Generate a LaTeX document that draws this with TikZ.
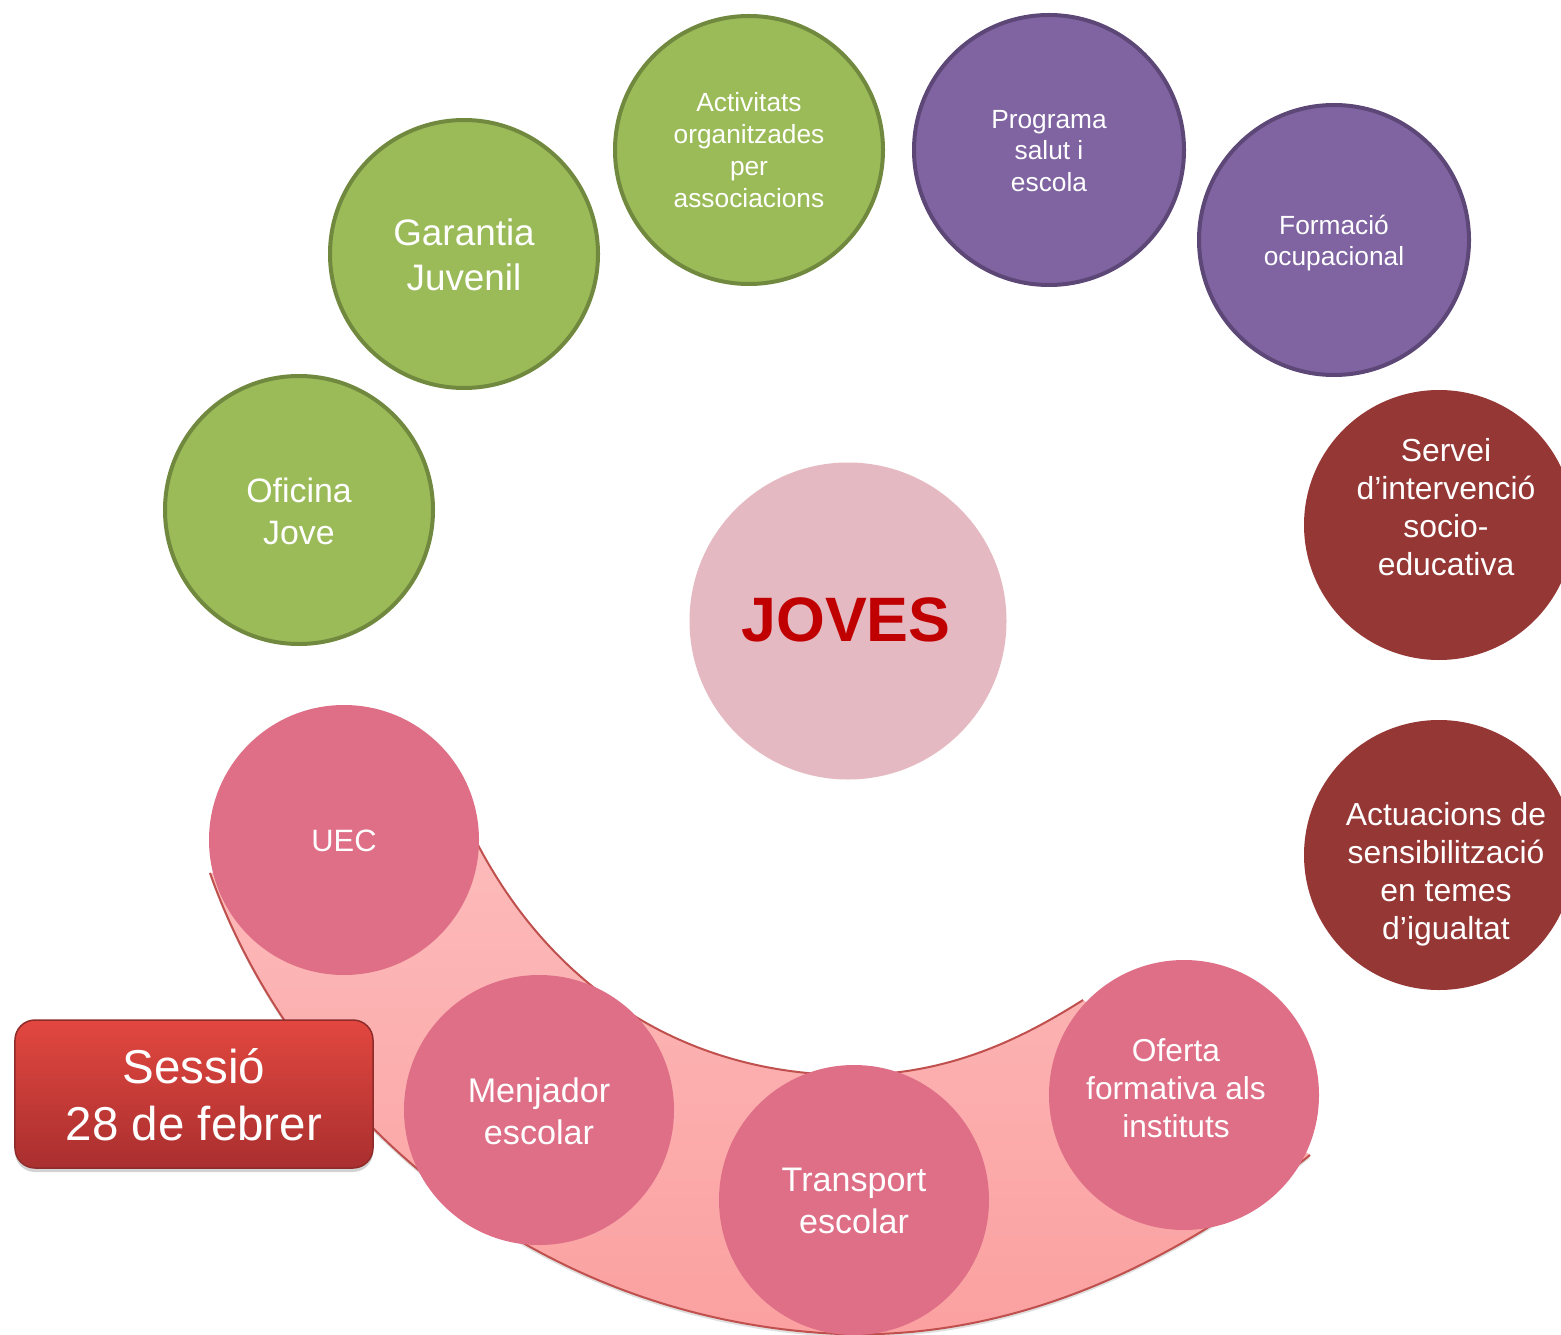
\documentclass[tikz,border=0pt]{standalone}
\usepackage{fontspec}
\setmainfont{Liberation Sans}
\usetikzlibrary{shadows}
\definecolor{grn}{HTML}{9BBB59}
\definecolor{grnb}{HTML}{71893F}
\definecolor{pur}{HTML}{8064A2}
\definecolor{purb}{HTML}{5C4776}
\definecolor{dred}{HTML}{953735}
\definecolor{pnk}{HTML}{DE6F87}
\definecolor{jov}{HTML}{E5B9C2}
\definecolor{jovtxt}{HTML}{C00000}
\definecolor{bandtop}{HTML}{FDBABA}
\definecolor{bandbot}{HTML}{FBA0A0}
\definecolor{bandline}{HTML}{C0504D}
\definecolor{boxtop}{HTML}{E2473F}
\definecolor{boxbot}{HTML}{A92F2F}
\definecolor{boxline}{HTML}{8E2B2B}
\begin{document}
\begin{tikzpicture}[x=1bp,y=-1bp,
  greenc/.style={circle, inner sep=0pt, minimum size=268bp, fill=grn, draw=grnb, line width=4bp},
  purc/.style={circle, inner sep=0pt, minimum size=270bp, fill=pur, draw=purb, line width=4bp},
  redc/.style={circle, inner sep=0pt, minimum size=270bp, fill=dred},
  pinkc/.style={circle, inner sep=0pt, minimum size=270bp, fill=pnk},
  bandedge/.style={draw=bandline, line width=2bp},
  txt/.style={text=white, align=center, inner sep=0pt, font=\fontsize{#1}{#1}\selectfont},
  fs/.code args={#1/#2}{\tikzset{font=\fontsize{#1}{#2}\selectfont}}
]
\useasboundingbox (0,0) rectangle (1561,1335);
\clip (0,0) rectangle (1561,1335);

% band
\path[top color=bandtop, bottom color=bandbot,
  drop shadow={opacity=0.25, shadow xshift=0bp, shadow yshift=-3bp}]
  (210,873) .. controls (290,1100) and (520,1320) .. (840,1334)
  .. controls (1020,1340) and (1180,1260) .. (1310,1155)
  -- (1083,1000)
  .. controls (1020,1040) and (950,1073) .. (860,1075)
  .. controls (700,1078) and (560,1000) .. (478,845) -- cycle;
\draw[bandedge] (210,873) .. controls (290,1100) and (520,1320) .. (840,1334)
  .. controls (1020,1340) and (1180,1260) .. (1310,1155);
\draw[bandedge] (1083,1000)
  .. controls (1020,1040) and (950,1073) .. (860,1075)
  .. controls (700,1078) and (560,1000) .. (478,845);

% green circles
\node[greenc] (oficina) at (299,510) {};
\node[txt=34, fs=34/42] (toficina) at (299,511) {Oficina\\Jove};
\node[greenc] (garantia) at (464,254) {};
\node[txt=37, fs=37/45] (tgarantia) at (464,255) {Garantia\\Juvenil};
\node[greenc] (activitats) at (749,150) {};
\node[txt=26, fs=26.4/32] (tactivitats) at (749,150) {Activitats\\organitzades\\per\\associacions};

% purple circles
\node[purc] (programa) at (1049,150) {};
\node[txt=26, fs=26.4/32] (tprograma) at (1049,151) {Programa\\salut i\\escola};
\node[purc] (formacio) at (1334,240) {};
\node[txt=26, fs=26.4/32] (tformacio) at (1334,243) {Formació\\ocupacional};

% dark red circles
\node[redc] (servei) at (1439,525) {};
\node[txt=32, fs=32/38] (tservei) at (1446,507) {Servei\\d’intervenció\\socio-\\educativa};
\node[redc] (actuacions) at (1439,855) {};
\node[txt=32, fs=32/38] (tactuacions) at (1446,874) {Actuacions de\\sensibilització\\en temes\\d’igualtat};

% centre
\node[circle, inner sep=0pt, minimum size=317bp, fill=jov] (joves) at (848,621) {};
\node[inner sep=0pt, text=jovtxt, font=\fontsize{63}{63}\selectfont\bfseries] (tjoves) at (846,620) {JOVES};

% pink circles
\node[pinkc] (uec) at (344,840) {};
\node[txt=31, fs=31/38] (tuec) at (344,841) {UEC};
\node[pinkc] (menjador) at (539,1110) {};
\node[txt=34, fs=34.3/42] (tmenjador) at (539,1111) {Menjador\\escolar};
\node[pinkc] (transport) at (854,1200) {};
\node[txt=34, fs=34.2/42] (ttransport) at (854,1201) {Transport\\escolar};
\node[pinkc] (oferta) at (1184,1095) {};
\node[txt=32, fs=31.8/38] (toferta) at (1176,1088) {Oferta\\formativa als\\instituts};

% session box
\node[rounded corners=20bp, minimum width=358bp, minimum height=148bp,
  top color=boxtop, bottom color=boxbot, draw=boxline, line width=1.5bp,
  drop shadow={opacity=0.35, shadow xshift=0bp, shadow yshift=-4bp}] (sessio) at (194,1094) {};
\node[txt=48, fs=47.7/57] (tsessio) at (194,1095) {Sessió\\28 de febrer};
\end{tikzpicture}
\end{document}
